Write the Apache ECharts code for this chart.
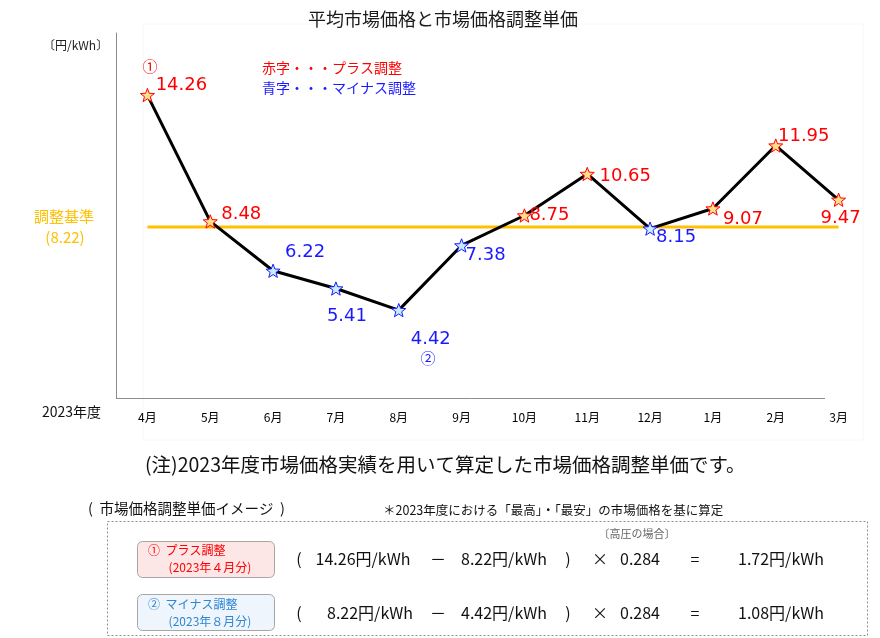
<!DOCTYPE html>
<html>
<head>
<meta charset="utf-8">
<script src="https://cdn.jsdelivr.net/npm/echarts@6/dist/echarts.min.js"></script>
<style>
html,body{margin:0;padding:0;background:#fff;}
#chart{width:880px;height:638px;}
</style>
</head>
<body>
<div id="chart"></div>
<script>
const months = ['4月','5月','6月','7月','8月','9月','10月','11月','12月','1月','2月','3月'];
const prices = [14.26, 8.48, 6.22, 5.41, 4.42, 7.38, 8.75, 10.65, 8.15, 9.07, 11.95, 9.47];
const baseline = 8.22;
const baselineValues = months.map(() => baseline);
const labelOffsets = [[34,-10],[31,-7],[32,-18],[11,28],[32,29],[24,10],[25,0],[38,2],[26,9],[30,11],[28,-9],[2,19]];

function starPath(){
  let p = '';
  for (let i = 0; i < 10; i++) {
    const a = -Math.PI/2 + i*Math.PI/5;
    const r = i % 2 ? 0.42 : 1;
    p += (i ? 'L' : 'M') + (Math.cos(a)*r).toFixed(3) + ' ' + (Math.sin(a)*r).toFixed(3);
  }
  return 'path://' + p + 'Z';
}
const STAR = starPath();
const RED = '#ff0000', BLUE = '#1a1aff', GOLD = '#ffc000';
const JP = '"Noto Sans CJK JP","Noto Sans",sans-serif';
const NUM = '"DejaVu Sans",sans-serif';

const chart = echarts.init(document.getElementById('chart'), null, {renderer:'canvas'});

const mainData = prices.map((v, i) => {
  const plus = v > baseline;
  return {
    value: v,
    itemStyle: { color: plus ? '#ffe08a' : '#c8ecff', borderColor: plus ? RED : BLUE, borderWidth: 1 },
    label: { offset: labelOffsets[i], color: plus ? RED : BLUE }
  };
});

function txt(x, y, text, opt){
  return Object.assign({ type:'text', x, y, style: Object.assign({ text, fontFamily: JP, fontSize: 13, fill:'#111', textVerticalAlign:'middle', textAlign:'left' }, opt || {}) });
}

const formulaRows = [
  { y: 559, a: '14.26円/kWh', aX: 363, b: '8.22円/kWh', r: '1.72円/kWh' },
  { y: 613, a: '8.22円/kWh',  aX: 370, b: '4.42円/kWh', r: '1.08円/kWh' }
];
const formulaGraphics = [];
formulaRows.forEach(row => {
  const st = { fontSize: 16, textAlign: 'center', fill: '#111' };
  formulaGraphics.push(
    txt(299, row.y, '(', st),
    txt(row.aX, row.y, row.a, st),
    txt(438, row.y, '－', st),
    txt(504, row.y, row.b, st),
    txt(568, row.y, ')', st),
    txt(600, row.y, '×', st),
    txt(640, row.y, '0.284', st),
    txt(695, row.y, '=', st),
    txt(781, row.y, row.r, st)
  );
});

const option = {
  backgroundColor: '#fff',
  animation: false,
  title: {
    text: '平均市場価格と市場価格調整単価',
    left: 438, top: 5, textAlign: 'center',
    textStyle: { fontFamily: JP, fontSize: 18, fontWeight: 'normal', color: '#1a1a1a' }
  },
  grid: { left: 116, right: 10, top: 33, bottom: 240 },
  xAxis: {
    type: 'category',
    data: months,
    boundaryGap: true,
    axisLine: { show: false },
    axisTick: { show: false },
    axisLabel: { fontFamily: JP, fontSize: 12, color: '#000', margin: 13 }
  },
  yAxis: {
    type: 'value',
    min: 0.4, max: 17.1,
    axisLine: { show: true, lineStyle: { color: '#8c8c8c', width: 1 } },
    axisTick: { show: false },
    axisLabel: { show: false },
    splitLine: { show: false }
  },
  series: [
    {
      type: 'line',
      data: baselineValues,
      symbol: 'none',
      lineStyle: { color: GOLD, width: 3 },
      silent: true,
      z: 2
    },
    {
      type: 'line',
      data: mainData,
      symbol: STAR,
      symbolSize: 14,
      symbolKeepAspect: true,
      showAllSymbol: true,
      lineStyle: { color: '#000', width: 3 },
      label: {
        show: true,
        position: 'inside',
        fontFamily: NUM,
        fontSize: 18,
        formatter: p => p.value.toFixed(2)
      },
      emphasis: { disabled: true },
      z: 3
    }
  ],
  graphic: [
    { type:'rect', shape:{ x:143, y:24, width:720, height:416 }, style:{ fill:'none', stroke:'#f8f8f8', lineWidth:1 }, z:-1 },
    { type:'line', shape:{ x1:116, y1:398.5, x2:825, y2:398.5 }, style:{ stroke:'#8c8c8c', lineWidth:1 } },
    txt(43, 45, '〔円/kWh〕', { fontSize: 12, fill:'#222' }),
    txt(42, 412, '2023年度', { fontSize: 14, fill:'#111' }),
    txt(262, 68, '赤字・・・プラス調整', { fontSize: 14, fill: RED }),
    txt(262, 88, '青字・・・マイナス調整', { fontSize: 14, fill: BLUE }),
    txt(150, 66, '①', { fontSize: 15, fill: RED, textAlign:'center' }),
    txt(428, 358, '②', { fontSize: 15, fill: BLUE, textAlign:'center' }),
    txt(64, 216, '調整基準', { fontSize: 15, fill: GOLD, textAlign:'center' }),
    txt(65, 237, '(8.22)', { fontSize: 15, fill: GOLD, textAlign:'center' }),
    txt(145, 465, '(注)2023年度市場価格実績を用いて算定した市場価格調整単価です。', { fontSize: 19.5, fill:'#111' }),
    txt(88, 508, '(  市場価格調整単価イメージ  )', { fontSize: 14.5, fill:'#111' }),
    txt(383, 510, '＊2023年度における「最高」・「最安」の市場価格を基に算定', { fontSize: 12.5, fill:'#111' }),
    { type:'rect', shape:{ x:107.5, y:521.5, width:760, height:114 }, style:{ fill:'none', stroke:'#8c8c8c', lineWidth:1, lineDash:[2,2] } },
    txt(637, 534, '〔高圧の場合〕', { fontSize: 11, fill:'#666', textAlign:'center' }),
    { type:'rect', shape:{ x:137.5, y:541.5, width:137, height:36, r:5 }, style:{ fill:'#fde6e6', stroke:'#a6a6a6', lineWidth:1 } },
    txt(148, 550, '①  プラス調整', { fontSize: 12, fill: RED }),
    txt(210, 567, '(2023年４月分)', { fontSize: 12, fill: RED, textAlign:'center' }),
    { type:'rect', shape:{ x:137.5, y:594.5, width:137, height:36, r:5 }, style:{ fill:'#eef5fc', stroke:'#a6a6a6', lineWidth:1 } },
    txt(148, 604, '②  マイナス調整', { fontSize: 12, fill: '#2e86d1' }),
    txt(210, 621, '(2023年８月分)', { fontSize: 12, fill: '#2e86d1', textAlign:'center' })
  ].concat(formulaGraphics)
};
chart.setOption(option);
</script>
</body>
</html>
